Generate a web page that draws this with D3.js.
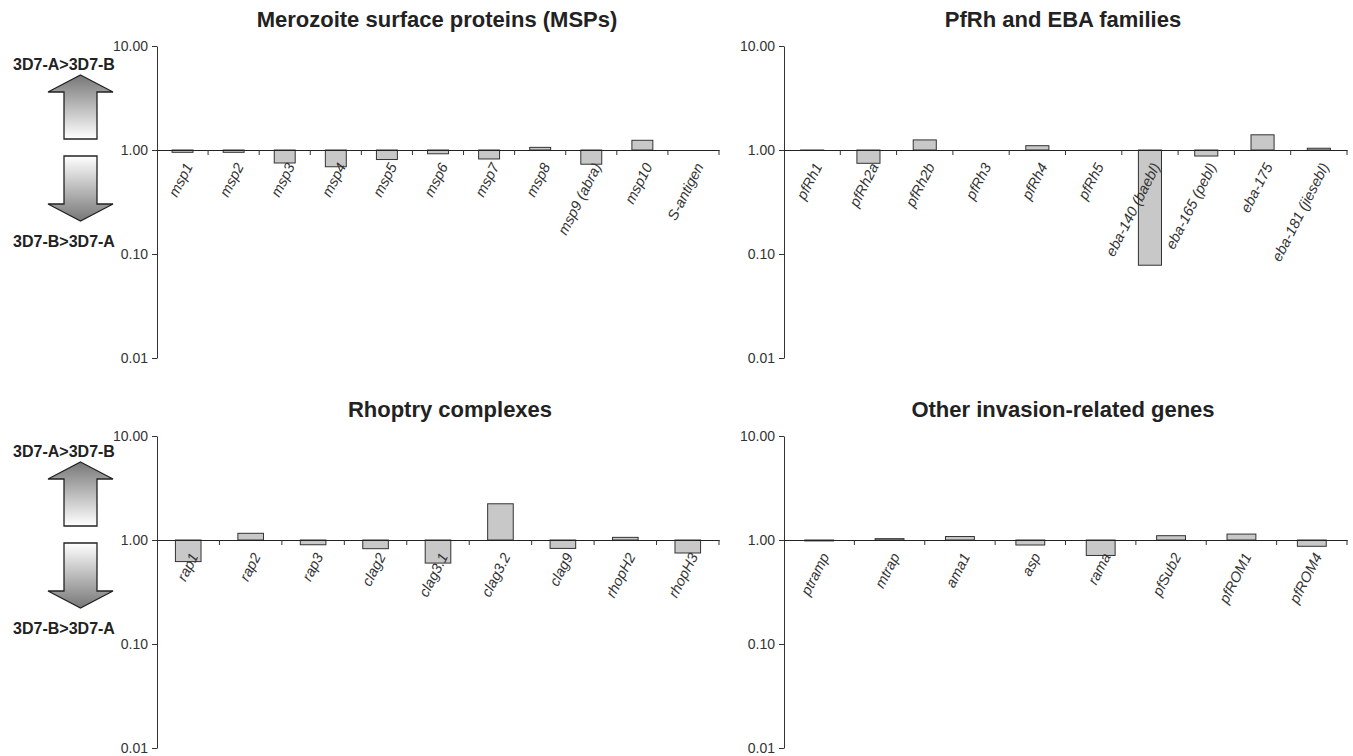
<!DOCTYPE html>
<html>
<head>
<meta charset="utf-8">
<script src="https://cdn.jsdelivr.net/npm/d3@7"></script>
<style>
  body { margin: 0; background: #fff; }
  svg { font-family: Arial, "Liberation Sans", sans-serif; }
</style>
</head>
<body>
<div id="chart"></div>
<script>
// expression ratio 3D7-A / 3D7-B (null = no bar)
const mspGenes = ["msp1", "msp2", "msp3", "msp4", "msp5", "msp6", "msp7", "msp8", "msp9 (abra)", "msp10", "S-antigen"];
const mspRatio = [0.95, 0.95, 0.75, 0.69, 0.81, 0.92, 0.82, 1.06, 0.73, 1.24, null];

const rhGenes = ["pfRh1", "pfRh2a", "pfRh2b", "pfRh3", "pfRh4", "pfRh5", "eba-140 (baebl)", "eba-165 (pebl)", "eba-175", "eba-181 (jiesebl)"];
const rhRatio = [0.99, 0.745, 1.25, null, 1.10, null, 0.078, 0.875, 1.40, 1.04];

const rhoptryGenes = ["rap1", "rap2", "rap3", "clag2", "clag3.1", "clag3.2", "clag9", "rhopH2", "rhopH3"];
const rhoptryRatio = [0.62, 1.16, 0.90, 0.825, 0.60, 2.23, 0.83, 1.06, 0.75];

const otherGenes = ["ptramp", "mtrap", "ama1", "asp", "rama", "pfSub2", "pfROM1", "pfROM4"];
const otherRatio = [0.98, 1.03, 1.08, 0.895, 0.71, 1.10, 1.14, 0.87];

const yTicks = [0.01, 0.1, 1, 10];

const panels = [
    { title: "Merozoite surface proteins (MSPs)", genes: mspGenes, values: mspRatio, x0: 157, x1: 719, top: 46, titleX: 437, arrows: 0 },
    { title: "PfRh and EBA families", genes: rhGenes, values: rhRatio, x0: 784, x1: 1347, top: 46, titleX: 1063, arrows: null },
    { title: "Rhoptry complexes", genes: rhoptryGenes, values: rhoptryRatio, x0: 157, x1: 719, top: 436, titleX: 450, arrows: 387 },
    { title: "Other invasion-related genes", genes: otherGenes, values: otherRatio, x0: 784, x1: 1347, top: 436, titleX: 1063, arrows: null }
];

const width = 1353, height = 756;
const decade = 104;
const font = "Arial, 'Liberation Sans', sans-serif";

const svg = d3.select("#chart").append("svg")
    .attr("width", width)
    .attr("height", height);

const defs = svg.append("defs");
const gUp = defs.append("linearGradient").attr("id", "gradUp")
    .attr("x1", 0).attr("y1", 0).attr("x2", 0).attr("y2", 1);
gUp.append("stop").attr("offset", "0%").attr("stop-color", "#777");
gUp.append("stop").attr("offset", "100%").attr("stop-color", "#fff");
const gDown = defs.append("linearGradient").attr("id", "gradDown")
    .attr("x1", 0).attr("y1", 0).attr("x2", 0).attr("y2", 1);
gDown.append("stop").attr("offset", "0%").attr("stop-color", "#fff");
gDown.append("stop").attr("offset", "100%").attr("stop-color", "#777");

function drawArrows(dy) {
    const g = svg.append("g").attr("transform", `translate(0,${dy})`);
    g.append("text")
        .attr("x", 64).attr("y", 70)
        .attr("text-anchor", "middle")
        .style("font-weight", "bold").style("font-size", "16px").style("fill", "#222")
        .text("3D7-A>3D7-B");
    g.append("polygon")
        .attr("points", "80.5,75 113,92 97,92 97,139 64,139 64,92 48,92")
        .attr("fill", "url(#gradUp)").attr("stroke", "#222").attr("stroke-width", 1.3);
    g.append("polygon")
        .attr("points", "64,156 97,156 97,204 113,204 80.5,221 48,204 64,204")
        .attr("fill", "url(#gradDown)").attr("stroke", "#222").attr("stroke-width", 1.3);
    g.append("text")
        .attr("x", 64).attr("y", 247)
        .attr("text-anchor", "middle")
        .style("font-weight", "bold").style("font-size", "16px").style("fill", "#222")
        .text("3D7-B>3D7-A");
}

function drawPanel(p) {
    const y = d3.scaleLog()
        .domain([0.01, 10])
        .range([p.top + 3 * decade, p.top]);

    const x = d3.scaleBand()
        .domain(p.genes)
        .range([p.x0, p.x1])
        .padding(0);

    const g = svg.append("g");

    g.append("text")
        .attr("x", p.titleX).attr("y", p.top - 19)
        .attr("text-anchor", "middle")
        .style("font-weight", "bold").style("font-size", "22px").style("fill", "#222")
        .text(p.title);

    // y axis
    const yAxis = g.append("g")
        .attr("transform", `translate(${p.x0},0)`)
        .call(d3.axisLeft(y).tickValues(yTicks).tickFormat(d3.format(".2f")).tickSize(5).tickSizeOuter(0));
    yAxis.select(".domain").attr("stroke", "#333");
    yAxis.selectAll(".tick line").attr("stroke", "#333");
    yAxis.selectAll(".tick text")
        .attr("x", -9)
        .style("font-size", "14px").style("fill", "#333")
        .style("font-family", font);

    // bars
    const data = p.genes.map((d, i) => ({ gene: d, value: p.values[i] }))
        .filter(d => d.value !== null);
    const bw = x.bandwidth() * 0.41;
    g.selectAll("rect.bar")
        .data(data)
        .enter()
        .append("rect")
        .attr("class", "bar")
        .attr("x", d => x(d.gene) + (x.bandwidth() - bw) / 2)
        .attr("y", d => Math.min(y(d.value), y(1)))
        .attr("width", bw)
        .attr("height", d => Math.max(Math.abs(y(d.value) - y(1)), 0.5))
        .style("fill", "#c8c8c8")
        .style("stroke", "#333")
        .style("stroke-width", 1);

    // x axis at ratio 1
    const xAxis = g.append("g")
        .attr("transform", `translate(0,${y(1)})`)
        .call(d3.axisBottom(x).tickSize(0).tickSizeOuter(0));
    xAxis.select(".domain").attr("stroke", "#222").attr("stroke-width", 1.2);
    xAxis.selectAll(".tick text")
        .attr("x", 0).attr("y", 0).attr("dy", "0.35em")
        .attr("transform", "translate(6,14) rotate(-63)")
        .attr("text-anchor", "end")
        .style("font-size", "14.5px").style("font-style", "italic").style("fill", "#333")
        .style("font-family", font);

    const bounds = p.genes.map(d => x(d) + x.bandwidth());
    g.selectAll("line.xtick")
        .data(bounds)
        .enter()
        .append("line")
        .attr("class", "xtick")
        .attr("x1", d => d).attr("x2", d => d)
        .attr("y1", y(1)).attr("y2", y(1) + 5)
        .attr("stroke", "#333");

    if (p.arrows !== null) drawArrows(p.arrows);
}

panels.forEach(drawPanel);
</script>
</body>
</html>
